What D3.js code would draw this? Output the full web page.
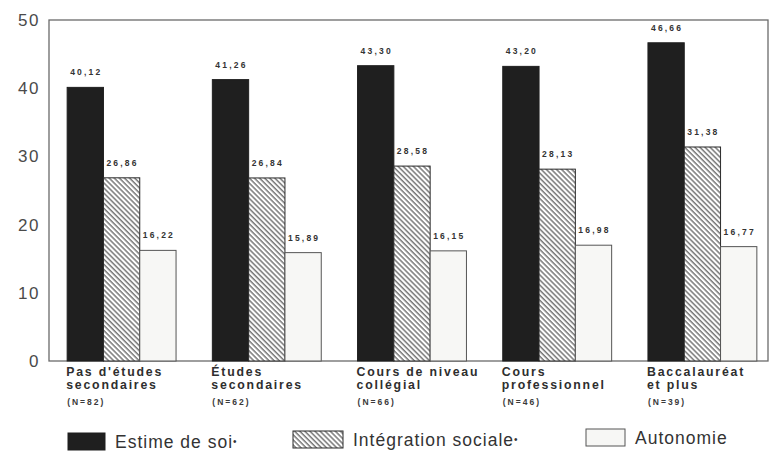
<!DOCTYPE html>
<html>
<head>
<meta charset="utf-8">
<script src="https://cdn.jsdelivr.net/npm/d3@7/dist/d3.min.js"></script>
<style>
  html, body { margin: 0; padding: 0; background: #ffffff; }
  svg { display: block; }
  text { font-family: "Liberation Sans", Arial, Helvetica, sans-serif; }
</style>
</head>
<body>
<svg id="chart" width="772" height="452"></svg>
<script>
// Scores moyens par niveau de scolarité
const categories = [
  ["Pas d'études", "secondaires"],
  ["Études", "secondaires"],
  ["Cours de niveau", "collégial"],
  ["Cours", "professionnel"],
  ["Baccalauréat", "et plus"]
];
const sampleSizes = [82, 62, 66, 46, 39];
const estimeDeSoi = [40.12, 41.26, 43.30, 43.20, 46.66];
const integrationSociale = [26.86, 26.84, 28.58, 28.13, 31.38];
const autonomie = [16.22, 15.89, 16.15, 16.98, 16.77];
const seriesNames = ["Estime de soi", "Intégration sociale", "Autonomie"];
const seriesMarks = ["•", "•", ""];
const yTicks = [0, 10, 20, 30, 40, 50];

const seriesValues = [estimeDeSoi, integrationSociale, autonomie];
const seriesKeys = ["estime", "integration", "autonomie"];

const svg = d3.select("#chart");
const plot = { left: 49, right: 768, top: 20, bottom: 361 };

// diagonal hatch for the "Intégration sociale" series
const defs = svg.append("defs");
const pat = defs.append("pattern")
  .attr("id", "hatch")
  .attr("patternUnits", "userSpaceOnUse")
  .attr("width", 3.6).attr("height", 10)
  .attr("patternTransform", "rotate(-45)");
pat.append("rect").attr("width", 3.6).attr("height", 10).attr("fill", "#ffffff");
pat.append("line")
  .attr("x1", 1).attr("y1", 0).attr("x2", 1).attr("y2", 10)
  .attr("stroke", "#333333").attr("stroke-width", 1);

const fills = { estime: "#1f1f1f", integration: "url(#hatch)", autonomie: "#f7f7f5" };
const strokes = { estime: "#1f1f1f", integration: "#2a2a2a", autonomie: "#555555" };

const y = d3.scaleLinear().domain([0, 50]).range([plot.bottom, plot.top]);
const x0 = d3.scaleBand()
  .domain(d3.range(categories.length))
  .range([plot.left, 775])
  .paddingInner(0.25)
  .paddingOuter(0.125);
const x1 = d3.scaleBand()
  .domain(seriesKeys)
  .range([0, x0.bandwidth()]);

// frame
svg.append("rect")
  .attr("x", plot.left).attr("y", plot.top)
  .attr("width", plot.right - plot.left).attr("height", plot.bottom - plot.top)
  .attr("fill", "none").attr("stroke", "#6a6a6a").attr("stroke-width", 1.3);

// y axis labels (no tick marks)
const yAxis = d3.axisLeft(y).tickValues(yTicks).tickSize(0).tickPadding(9).tickFormat(d3.format("d"));
const ya = svg.append("g").attr("transform", `translate(${plot.left},0)`).call(yAxis);
ya.select(".domain").remove();
ya.selectAll("text")
  .attr("font-size", 17).attr("fill", "#4a4a4a")
  .attr("letter-spacing", 1.5)
  .attr("font-family", "'Liberation Sans', Arial, sans-serif");

// bars
const rows = categories.map((c, i) => ({
  i,
  vals: seriesKeys.map((k, s) => ({ key: k, value: seriesValues[s][i] }))
}));

const groups = svg.append("g").selectAll("g")
  .data(rows).join("g")
  .attr("transform", d => `translate(${x0(d.i)},0)`);

groups.selectAll("rect")
  .data(d => d.vals).join("rect")
  .attr("x", d => x1(d.key))
  .attr("y", d => y(d.value))
  .attr("width", x1.bandwidth())
  .attr("height", d => y(0) - y(d.value))
  .attr("fill", d => fills[d.key])
  .attr("stroke", d => strokes[d.key])
  .attr("stroke-width", 1);

const fmt = v => d3.format(".2f")(v).replace(".", ",");
groups.selectAll("text.val")
  .data(d => d.vals).join("text")
  .attr("class", "val")
  .attr("x", d => x1(d.key) + x1.bandwidth() / 2 + 1)
  .attr("y", d => y(d.value) - 12)
  .attr("text-anchor", "middle")
  .attr("font-size", 8.5).attr("font-weight", "bold")
  .attr("letter-spacing", 2.2)
  .attr("fill", "#333")
  .text(d => fmt(d.value));

// category labels
const catG = svg.append("g").selectAll("g")
  .data(rows).join("g")
  .attr("transform", d => `translate(${x0(d.i) - 1},0)`);
catG.each(function(d) {
  const g = d3.select(this);
  categories[d.i].forEach((line, k) => {
    g.append("text")
      .attr("x", 0).attr("y", 376 + k * 13)
      .attr("font-size", 12.3).attr("font-weight", "bold")
      .attr("letter-spacing", 1.8)
      .attr("fill", "#2e2e2e")
      .text(line);
  });
  g.append("text")
    .attr("x", 1).attr("y", 405)
    .attr("font-size", 8.5).attr("font-weight", "bold")
    .attr("letter-spacing", 2)
    .attr("fill", "#3a3a3a")
    .text(`(N=${sampleSizes[d.i]})`);
});

// legend
const legendX = [68, 293, 586];
const legendBoxW = [37, 50, 39];
const legend = svg.append("g").selectAll("g")
  .data(seriesKeys).join("g")
  .attr("transform", (d, i) => `translate(${legendX[i]},${433 - i * 2})`);
legend.append("rect")
  .attr("x", 0).attr("y", 0)
  .attr("width", (d, i) => legendBoxW[i]).attr("height", 17)
  .attr("fill", d => fills[d])
  .attr("stroke", d => strokes[d]).attr("stroke-width", 1);
const lt = legend.append("text")
  .attr("x", (d, i) => legendBoxW[i] + 10).attr("y", 15)
  .attr("font-size", 17.5).attr("letter-spacing", 1)
  .attr("fill", "#333");
lt.append("tspan").text((d, i) => seriesNames[i]);
lt.append("tspan").attr("font-size", 10).attr("dy", -3).text((d, i) => seriesMarks[i]);
</script>
</body>
</html>
